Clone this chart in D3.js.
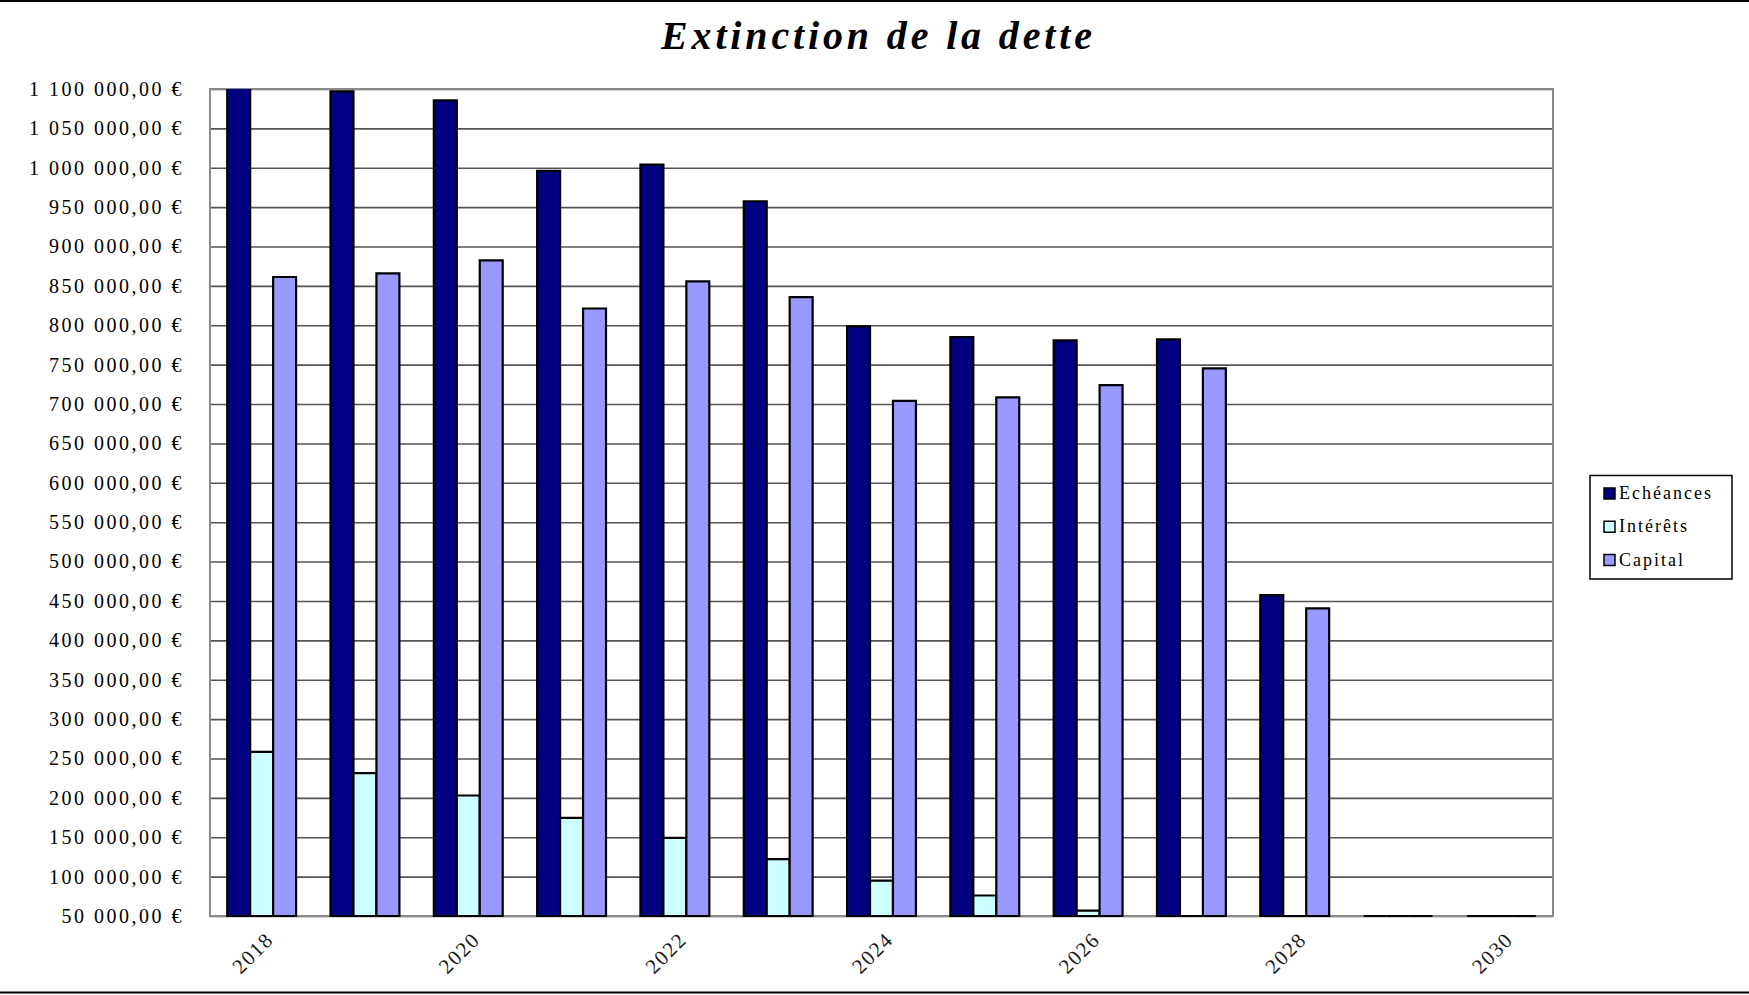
<!DOCTYPE html>
<html>
<head>
<meta charset="utf-8">
<script src="https://cdn.jsdelivr.net/npm/d3@7"></script>
<style>
  html, body { margin: 0; padding: 0; background: #fff; }
  svg { display: block; }
</style>
</head>
<body>
<svg id="chart" width="1749" height="995"></svg>
<script>
// ---- Data ----
const years = ["2018","2019","2020","2021","2022","2023","2024","2025","2026","2027","2028","2029","2030"];
const echeances = [1119600, 1097000, 1085500, 996000, 1004000, 957500, 798500, 785000, 780800, 782000, 457500, 0, 0];
const interets  = [258300, 231400, 203000, 174700, 149200, 122300, 95000, 76000, 56700, 36800, 16900, 0, 0];
const capital   = [861300, 866000, 882500, 821300, 855800, 835700, 704000, 708500, 724000, 745300, 440600, 0, 0];
const seriesNames = ["Echéances", "Intérêts", "Capital"];
const seriesColors = ["#000080", "#CCFFFF", "#9999FF"];
const yTicks = [50000,100000,150000,200000,250000,300000,350000,400000,450000,500000,550000,600000,650000,700000,750000,800000,850000,900000,950000,1000000,1050000,1100000];
const xTickLabels = ["2018","2020","2022","2024","2026","2028","2030"];
const title = "Extinction de la dette";

// ---- Layout ----
const svg = d3.select("#chart");
const W = 1749, H = 995;
const plot = { left: 210, right: 1553, top: 89, bottom: 916 };
const serif = "'Liberation Serif', 'Times New Roman', serif";

const locale = d3.formatLocale({ decimal: ",", thousands: " ", grouping: [3], currency: ["", " €"] });
const fmt = locale.format("$,.2f");

const y = d3.scaleLinear().domain([50000, 1100000]).range([plot.bottom, plot.top]);
const x = d3.scaleBand().domain(years).range([plot.left, plot.right]).paddingInner(0).paddingOuter(0);
const groupW = x.step() * 3 / 4.5;
const barW = groupW / 3;
const xs = d3.scaleBand().domain(seriesNames).range([-groupW / 2, groupW / 2]);

// outer chart border (top / bottom)
svg.append("line").attr("x1", 0).attr("x2", W).attr("y1", 1).attr("y2", 1).attr("stroke", "#000").attr("stroke-width", 2);
svg.append("line").attr("x1", 0).attr("x2", W).attr("y1", 992.5).attr("y2", 992.5).attr("stroke", "#000").attr("stroke-width", 2);

// title
svg.append("text")
  .attr("x", 661).attr("y", 49)
  .attr("textLength", 431).attr("lengthAdjust", "spacing")
  .attr("font-family", serif)
  .attr("font-size", 40).attr("font-weight", "bold").attr("font-style", "italic")
  .attr("fill", "#000")
  .text(title);

// gridlines
const grid = svg.append("g")
  .attr("transform", `translate(${plot.left},0)`)
  .call(d3.axisLeft(y).tickValues(yTicks).tickSize(-(plot.right - plot.left)).tickFormat(""));
grid.select(".domain").remove();
grid.selectAll(".tick line").attr("stroke", "#555").attr("stroke-width", 1.6);

// y labels
const yAxis = svg.append("g")
  .attr("transform", `translate(${plot.left},0)`)
  .call(d3.axisLeft(y).tickValues(yTicks).tickSize(0).tickPadding(26).tickFormat(fmt));
yAxis.select(".domain").remove();
yAxis.selectAll("text")
  .attr("font-family", serif)
  .attr("font-size", 20)
  .attr("letter-spacing", "2.5px")
  .attr("fill", "#000");

// plot frame
svg.append("rect")
  .attr("x", plot.left).attr("y", plot.top)
  .attr("width", plot.right - plot.left).attr("height", plot.bottom - plot.top)
  .attr("fill", "none").attr("stroke", "#8a8a8a").attr("stroke-width", 2);

// clip
svg.append("clipPath").attr("id", "clip").append("rect")
  .attr("x", plot.left - 2).attr("y", plot.top).attr("width", plot.right - plot.left + 4).attr("height", plot.bottom - plot.top + 4);

const seriesData = [echeances, interets, capital];
const barsG = svg.append("g").attr("clip-path", "url(#clip)");
seriesData.forEach((vals, si) => {
  barsG.selectAll(null)
    .data(years.map((yr, i) => ({ yr, v: vals[i] })))
    .join("path")
    .attr("d", d => {
      const x0 = x(d.yr) + x.bandwidth() / 2 + xs(seriesNames[si]);
      const vv = Math.max(d.v, y.domain()[0]);
      const yTop = y(vv), yB = y(y.domain()[0]);
      return `M${x0},${yB}V${yTop}H${x0 + barW}V${yB}Z`;
    })
    .attr("fill", seriesColors[si])
    .attr("stroke", "#000")
    .attr("stroke-width", 2.2)
    .attr("stroke-linejoin", "miter");
});

// x labels
const xAxis = svg.append("g")
  .attr("transform", `translate(0,${plot.bottom})`)
  .call(d3.axisBottom(x).tickValues(xTickLabels).tickSize(0).tickFormat(d => d));
xAxis.select(".domain").remove();
xAxis.selectAll("text")
  .attr("font-family", serif)
  .attr("font-size", 21)
  .attr("letter-spacing", "1.5px")
  .attr("fill", "#1a1a1a")
  .attr("text-anchor", "end")
  .attr("y", 0).attr("dy", 0)
  .attr("transform", "translate(13,25) rotate(-45)");

// legend
const lg = svg.append("g");
lg.append("rect")
  .attr("x", 1590).attr("y", 475.5).attr("width", 142).attr("height", 103.5)
  .attr("fill", "#fff").attr("stroke", "#000").attr("stroke-width", 1.5);
const legendY = d3.scalePoint().domain(seriesNames).range([493.5, 560]);
seriesNames.forEach((n, i) => {
  const cy = legendY(n);
  lg.append("rect").attr("x", 1604).attr("y", cy - 5.5).attr("width", 11).attr("height", 11)
    .attr("fill", seriesColors[i]).attr("stroke", "#000").attr("stroke-width", 1.5);
  lg.append("text").attr("x", 1619).attr("y", cy + 5.5)
    .attr("font-family", serif)
    .attr("font-size", 18).attr("letter-spacing", "2px").attr("fill", "#000")
    .text(n);
});
</script>
</body>
</html>
